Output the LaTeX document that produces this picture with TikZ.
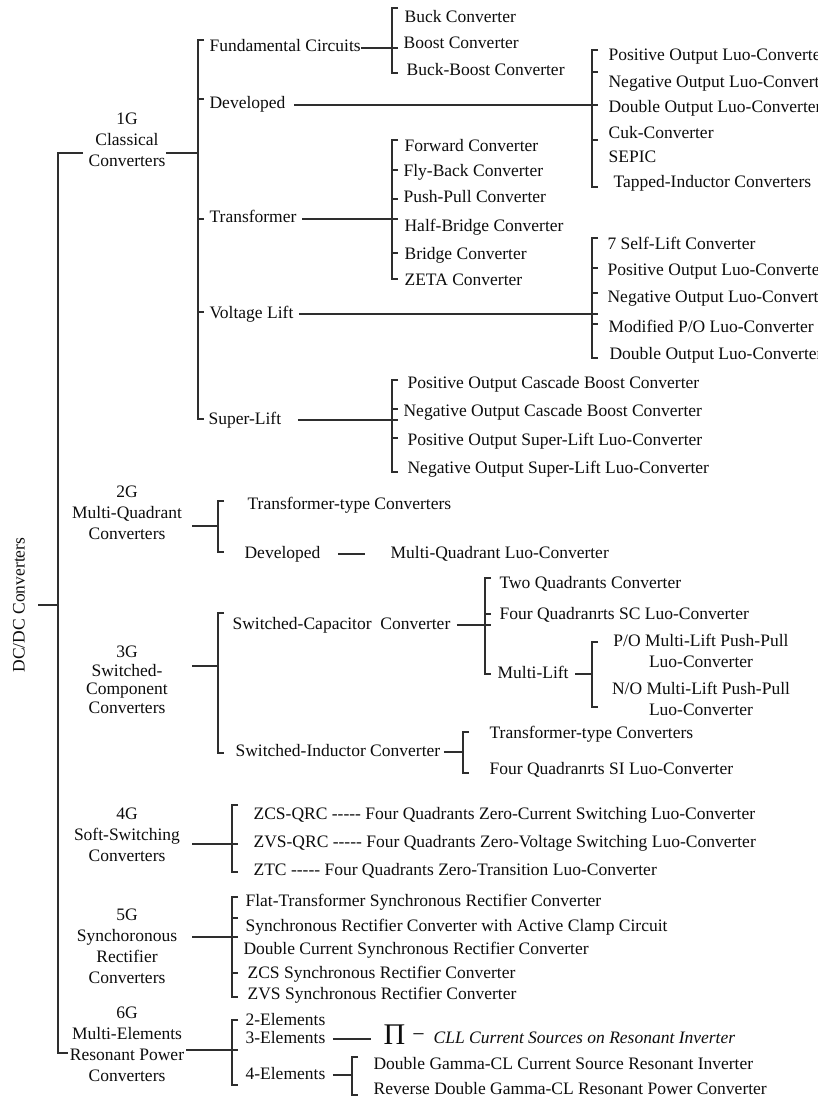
\documentclass[tikz,border=0pt]{standalone}
\usepackage{fontspec}
\setmainfont{Liberation Serif}
\newcommand{\brk}[3]{\draw (#1+6,#2) -- (#1,#2) -- (#1,#3) -- (#1+6,#3);}
\newcommand{\tk}[2]{\draw (#1,#2) -- (#1+6,#2);}
\begin{document}
\begin{tikzpicture}[x=1pt,y=-1pt,line width=1.2pt,color=black!82,
  every node/.style={inner sep=0pt,text=black!95,font=\fontsize{17.5}{21}\selectfont},
  leaf/.style={anchor=west,text height=12pt,text depth=4pt},
  gen/.style={align=center},
  two/.style={align=center}]
\fill[white] (0,0) rectangle (817,1099);
\useasboundingbox (0,0) rectangle (817,1099);
% bracket x positions
\coordinate (S0) at (58,0);
\coordinate (B1) at (392,0);
\coordinate (B2) at (592,0);
\coordinate (B3) at (485,0);
\coordinate (B4) at (463,0);
\coordinate (B5) at (352,0);
% root
\node[rotate=90] (root) at (19,605) {DC/DC Converters};
\coordinate (rt) at (38,605);
\draw (rt) -- (rt -| S0);
\draw (83,153) -- (58,153) -- (58,1053) -- (68,1053);
% ---------- 1G
\node[gen] (G1) at (127,140) {1G\\Classical\\Converters};
\draw ([yshift=-13pt]G1.east) -- (198,153);
\brk{198}{40}{419}
\tk{198}{99}\tk{198}{219}\tk{198}{312}
\node[leaf] (fund) at (209,48) {Fundamental Circuits};
\node[leaf] (dev1) at (209,105) {Developed};
\node[leaf] (trans) at (209,219) {Transformer};
\node[leaf] (vl) at (209,314) {Voltage Lift};
\node[leaf] (sl) at (208,420) {Super-Lift};
% fundamental
\draw (fund.east) -- (fund.east -| B1) -- ++(6,0);
\brk{392}{8}{73}
\node[leaf] (buck) at (404,19) {Buck Converter};
\node[leaf] (boost) at (403,45) {Boost Converter};
\node[leaf] (bb) at (406,72) {Buck-Boost Converter};
% developed
\draw ([xshift=8pt]dev1.east) -- (dev1.east -| B2) -- ++(6,0);
\brk{592}{50}{187}
\tk{592}{72}\tk{592}{140}
\node[leaf] (d1) at (608,57) {Positive Output Luo-Converter};
\node[leaf] (d2) at (608,84) {Negative Output Luo-Converter};
\node[leaf] (d3) at (608,109) {Double Output Luo-Converter};
\node[leaf] (d4) at (608,135) {Cuk-Converter};
\node[leaf] (d5) at (608,159) {SEPIC};
\node[leaf] (d6) at (613,184) {Tapped-Inductor Converters};
% transformer
\draw ([xshift=5pt]trans.east) -- (trans.east -| B1) -- ++(6,0);
\brk{392}{140}{279}
\tk{392}{170}\tk{392}{199}\tk{392}{253}
\node[leaf] (t1) at (404,148) {Forward Converter};
\node[leaf] (t2) at (403,173) {Fly-Back Converter};
\node[leaf] (t3) at (403,199) {Push-Pull Converter};
\node[leaf] (t4) at (404,228) {Half-Bridge Converter};
\node[leaf] (t5) at (404,255) {Bridge Converter};
\node[leaf] (t6) at (404,281) {ZETA Converter};
% voltage lift
\draw ([xshift=5pt]vl.east) -- (vl.east -| B2) -- ++(6,0);
\brk{592}{238}{358}
\tk{592}{268}\tk{592}{293}\tk{592}{324}
\node[leaf] (v1) at (607,245) {7 Self-Lift Converter};
\node[leaf] (v2) at (607,271) {Positive Output Luo-Converter};
\node[leaf] (v3) at (607,298) {Negative Output Luo-Converter};
\node[leaf] (v4) at (608,328) {Modified P/O Luo-Converter};
\node[leaf] (v5) at (609,355) {Double Output Luo-Converter};
% super lift
\draw ([xshift=16pt]sl.east) -- (sl.east -| B1) -- ++(6,0);
\brk{392}{380}{472}
\tk{392}{409}\tk{392}{438}
\node[leaf] (s1) at (407,384) {Positive Output Cascade Boost Converter};
\node[leaf] (s2) at (403,412) {Negative Output Cascade Boost Converter};
\node[leaf] (s3) at (407,441) {Positive Output Super-Lift Luo-Converter};
\node[leaf] (s4) at (407,469) {Negative Output Super-Lift Luo-Converter};
% ---------- 2G
\node[gen] (G2) at (127,513) {2G\\Multi-Quadrant\\Converters};
\draw (192,526) -- (218,526);
\brk{218}{501}{552}
\node[leaf] (m1) at (247,505) {Transformer-type Converters};
\node[leaf] (dev2) at (244,554) {Developed};
\node[leaf] (mq) at (390,554) {Multi-Quadrant Luo-Converter};
\draw ([xshift=17pt]dev2.east) -- ([xshift=-25pt]mq.west);
% ---------- 3G
\node[gen,font=\fontsize{17.5}{18.5}\selectfont] (G3) at (127,680) {3G\\Switched-\\Component\\Converters};
\draw (192,666) -- (218,666);
\brk{218}{613}{753}
\node[leaf] (sc) at (232,625) {Switched-Capacitor\ \ Converter};
\node[leaf] (si) at (235,752) {Switched-Inductor Converter};
\draw ([xshift=6pt]sc.east) -- (sc.east -| B3) -- ++(6,0);
\brk{485}{578}{674}
\tk{485}{614}
\node[leaf] (sc1) at (499,584) {Two Quadrants Converter};
\node[leaf] (sc2) at (499,615) {Four Quadranrts SC Luo-Converter};
\node[leaf] (ml) at (497,674) {Multi-Lift};
\draw ([xshift=6pt]ml.east) -- (ml.east -| B2);
\brk{592}{642}{707}
\node[two] (po) at (701,651) {P/O Multi-Lift Push-Pull\\Luo-Converter};
\node[two] (no) at (701,699) {N/O Multi-Lift Push-Pull\\Luo-Converter};
\draw ([xshift=3pt]si.east) -- (si.east -| B4);
\brk{463}{732}{773}
\node[leaf] (si1) at (489,734) {Transformer-type Converters};
\node[leaf] (si2) at (489,770) {Four Quadranrts SI Luo-Converter};
% ---------- 4G
\node[gen] (G4) at (127,835) {4G\\Soft-Switching\\Converters};
\draw (192,844) -- (238,844);
\brk{232}{805}{872}
\node[leaf] (z1) at (253,815) {ZCS-QRC -{}-{}-{}-{}- Four Quadrants Zero-Current Switching Luo-Converter};
\node[leaf] (z2) at (253,843) {ZVS-QRC -{}-{}-{}-{}- Four Quadrants Zero-Voltage Switching Luo-Converter};
\node[leaf] (z3) at (253,871) {ZTC -{}-{}-{}-{}- Four Quadrants Zero-Transition Luo-Converter};
% ---------- 5G
\node[gen] (G5) at (127,946) {5G\\Synchoronous\\Rectifier\\Converters};
\draw (192,937) -- (238,937);
\brk{232}{897}{997}
\tk{232}{918}\tk{232}{973}
\node[leaf] (r1) at (245,902) {Flat-Transformer Synchronous Rectifier Converter};
\node[leaf] (r2) at (245,927) {Synchronous Rectifier Converter with Active Clamp Circuit};
\node[leaf] (r3) at (243,950) {Double Current Synchronous Rectifier Converter};
\node[leaf] (r4) at (247,974) {ZCS Synchronous Rectifier Converter};
\node[leaf] (r5) at (247,995) {ZVS Synchronous Rectifier Converter};
% ---------- 6G
\node[gen] (G6) at (127,1044) {6G\\Multi-Elements\\Resonant Power\\Converters};
\draw (186,1050) -- (238,1050);
\brk{232}{1020}{1085}
\node[leaf] (e2) at (245,1021) {2-Elements};
\node[leaf] (e3) at (245,1039) {3-Elements};
\node[leaf] (e4) at (245,1075) {4-Elements};
\node (pi) at (394.5,1035) {\fontsize{30}{30}\selectfont Π};
\node[anchor=base] (mn) at (418.5,1041) {\fontsize{22}{22}\selectfont −};
\node[leaf] (cll) at (433,1039) {\itshape CLL Current Sources on Resonant Inverter};
\coordinate (pil) at ([xshift=-12pt]pi.west);
\draw ([xshift=7pt]e3.east) -- (e3.east -| pil);
\draw ([xshift=7pt]e4.east) -- (e4.east -| B5);
\brk{352}{1057}{1095}
\node[leaf] (ga) at (373,1065) {Double Gamma-CL Current Source Resonant Inverter};
\node[leaf] (gb) at (373,1090) {Reverse Double Gamma-CL Resonant Power Converter};
\end{tikzpicture}
\end{document}
